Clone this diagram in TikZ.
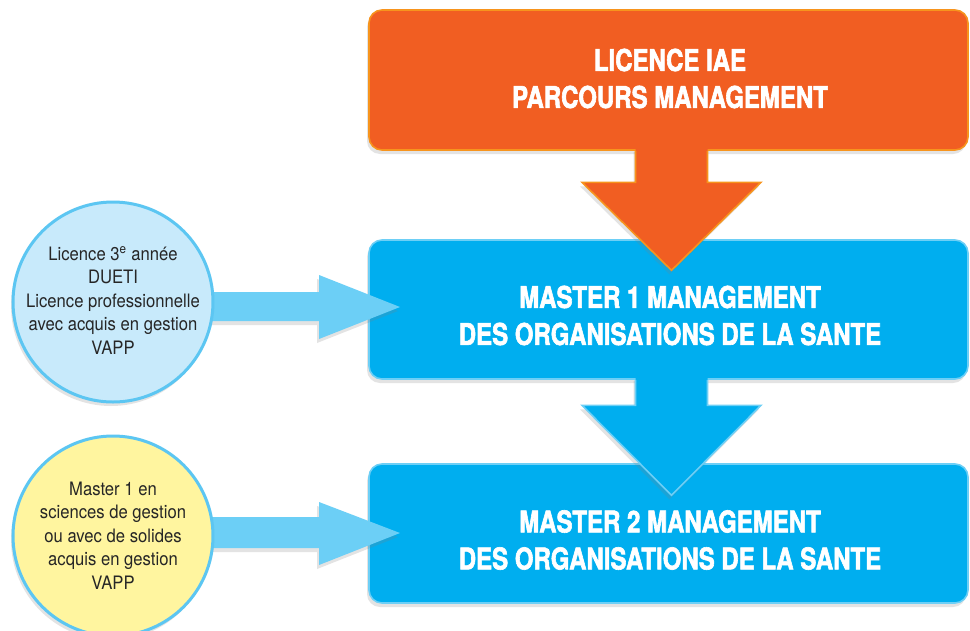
\documentclass[tikz,border=0pt]{standalone}
\usepackage{fontspec}
\usetikzlibrary{shadows,calc}
\newfontfamily\boxfont{texgyreheros-bold.otf}[FakeStretch=0.80,FakeBold=2]
\newfontfamily\circfont{TeX Gyre Heros}[FakeStretch=0.90]
\definecolor{orfill}{HTML}{F15E22}
\definecolor{orline}{HTML}{F7941D}
\definecolor{bluefill}{HTML}{00AEEF}
\definecolor{blueline}{HTML}{6DCFF6}
\definecolor{lightarrow}{HTML}{6CCFF6}
\definecolor{circblue}{HTML}{C8EAFB}
\definecolor{circyellow}{HTML}{FFF59F}
\definecolor{circline}{HTML}{5CC6F2}
\definecolor{circtext}{HTML}{262626}
\begin{document}
\begin{tikzpicture}[x=1pt,y=-1pt,
 softshadow/.style={drop shadow={opacity=0.22,shadow xshift=-2pt,shadow yshift=-4pt}},
 orbox/.style={rectangle,rounded corners=13pt,minimum width=599pt,minimum height=140pt,inner sep=0pt,fill=orfill,draw=orline,line width=1.6pt,softshadow},
 bluebox/.style={orbox,minimum height=139pt,fill=bluefill,draw=blueline},
 boxtext/.style={text=white,align=center,font=\boxfont\fontsize{30}{37}\selectfont,inner sep=0pt},
 disc/.style={circle,minimum size=200pt,inner sep=0pt,draw=circline,line width=3pt,softshadow},
 disctext/.style={text=circtext,align=center,font=\circfont\fontsize{18.5}{23.5}\selectfont,inner sep=0pt},
 ]
\useasboundingbox (0,0) rectangle (970,630);
\fill[white] (0,0) rectangle (970,630);

% boxes
\node[orbox] (lic) at (668.5,80) {};
\node[bluebox] (m1) at (668.5,309.5) {};
\node[bluebox] (m2) at (668.5,533.5) {};

% orange arrow from lic to m1
\path (lic.south) ++(3,0) coordinate (oa);
\begin{scope}[shift={(oa)}]
 \fill[orfill,softshadow] (-36,-3) -- (-36,31.5) -- (-89.5,31.5) -- (0,119.5) -- (89.5,31.5) -- (36,31.5) -- (36,-3) -- cycle;
 \draw[orline,line width=1.6pt,line join=miter] (-36,0) -- (-36,31.5) -- (-89.5,31.5) -- (0,119.5) -- (89.5,31.5) -- (36,31.5) -- (36,0);
\end{scope}

% blue arrow from m1 to m2
\path (m1.south) ++(3,0) coordinate (ba);
\begin{scope}[shift={(ba)}]
 \fill[bluefill,softshadow] (-36,-3) -- (-36,25.5) -- (-89.5,25.5) -- (0,115.5) -- (89.5,25.5) -- (36,25.5) -- (36,-3) -- cycle;
 \draw[blueline,line width=1.6pt,line join=miter] (-36,0) -- (-36,25.5) -- (-89.5,25.5) -- (0,115.5) -- (89.5,25.5) -- (36,25.5) -- (36,0);
\end{scope}

% box texts
\node[boxtext] (lict) at ($(lic.center)+(1.5,-1.5)$) {LICENCE IAE\\PARCOURS MANAGEMENT};
\node[boxtext] (m1t) at ($(m1.center)+(1.5,6)$) {MASTER 1 MANAGEMENT\\DES ORGANISATIONS DE LA SANTE};
\node[boxtext] (m2t) at ($(m2.center)+(1.5,6.5)$) {MASTER 2 MANAGEMENT\\DES ORGANISATIONS DE LA SANTE};

% circle centres
\coordinate (c1c) at (113,302);
\coordinate (c2c) at (113,536);

% left arrows
\begin{scope}[shift={(c1c)}]
 \fill[lightarrow,softshadow] (60,-10) -- (206,-10) -- (206,-27) -- (287,5) -- (206,37) -- (206,19) -- (60,19) -- cycle;
\end{scope}
\begin{scope}[shift={(c2c)}]
 \fill[lightarrow,softshadow] (60,-19) -- (206,-19) -- (206,-34) -- (287,-3) -- (206,29) -- (206,12) -- (60,12) -- cycle;
\end{scope}

% circles
\node[disc,fill=circblue] (c1) at (c1c) {};
\node[disc,fill=circyellow] (c2) at (c2c) {};
\node[disctext] (c1t) at ($(c1.center)+(0,-1.5)$) {Licence 3\textsuperscript{e} année\\DUETI\\Licence professionnelle\\avec acquis en gestion\\VAPP};
\node[disctext] (c2t) at ($(c2.center)+(0,-0.5)$) {Master 1 en\\sciences de gestion\\ou avec de solides\\acquis en gestion\\VAPP};
\end{tikzpicture}
\end{document}
